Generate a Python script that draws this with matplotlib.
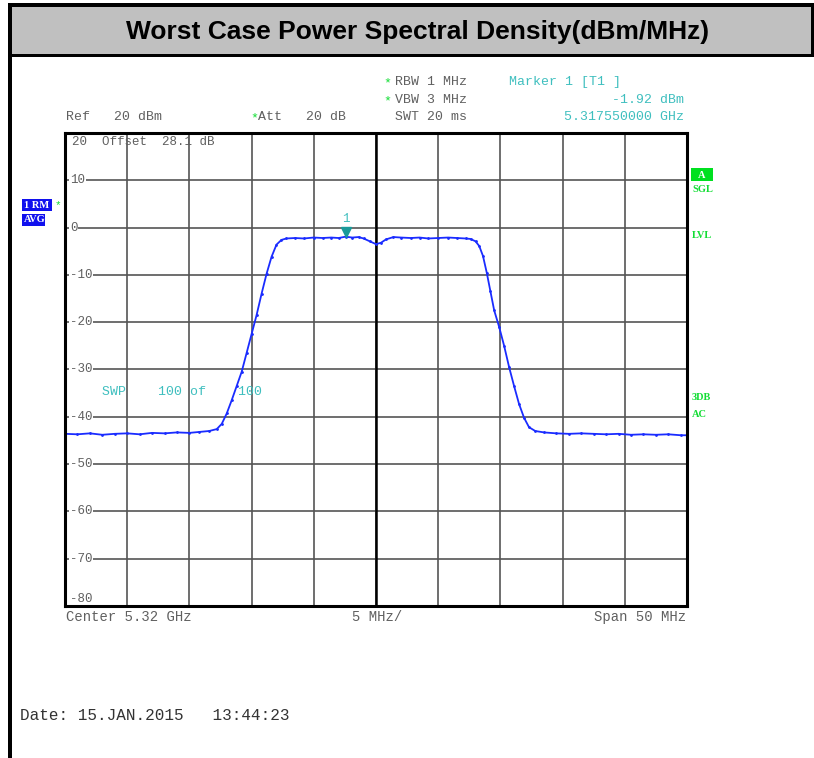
import matplotlib.pyplot as plt
from matplotlib.patches import Rectangle
import matplotlib.transforms as mtransforms

# trace: offset from center (MHz) and level (dBm)
freq = [-25.0, -24.0, -23.0, -22.0, -21.0, -20.0, -19.0, -18.0, -17.0, -16.0,
        -15.0, -14.2, -13.4, -12.8, -12.4, -12.0, -11.6, -11.2, -10.8, -10.4,
        -10.0, -9.6, -9.2, -8.8, -8.4, -8.0, -7.6, -7.2, -6.5, -5.8,
        -5.0, -4.3, -3.6, -3.0, -2.45, -1.9, -1.4, -1.0, -0.5, 0.0,
        0.4, 0.8, 1.4, 2.0, 2.8, 3.5, 4.2, 5.0, 5.8, 6.5,
        7.2, 7.6, 8.0, 8.3, 8.6, 8.9, 9.2, 9.5, 9.9, 10.3,
        10.7, 11.1, 11.5, 11.9, 12.3, 12.8, 13.5, 14.5, 15.5, 16.5,
        17.5, 18.5, 19.5, 20.5, 21.5, 22.5, 23.5, 24.5, 25.0]
level = [-43.6, -43.7, -43.5, -43.8, -43.6, -43.5, -43.7, -43.4, -43.5, -43.3,
         -43.4, -43.2, -43.0, -42.6, -41.5, -39.3, -36.5, -33.5, -30.5, -26.5,
         -22.5, -18.5, -14.0, -9.8, -6.2, -3.6, -2.6, -2.3, -2.2, -2.3,
         -2.1, -2.2, -2.1, -2.2, -1.92, -2.1, -2.0, -2.3, -2.9, -3.5,
         -3.2, -2.5, -2.0, -2.1, -2.2, -2.1, -2.3, -2.2, -2.1, -2.2,
         -2.3, -2.4, -2.9, -3.9, -6.0, -9.5, -13.5, -17.5, -21.0, -25.0,
         -29.5, -33.5, -37.3, -40.2, -42.2, -43.0, -43.3, -43.5, -43.6, -43.5,
         -43.6, -43.7, -43.6, -43.8, -43.7, -43.8, -43.7, -43.9, -43.9]
ytick_vals = [10, 0, -10, -20, -30, -40, -50, -60, -70]
marker_f, marker_v = -2.45, -1.92

W, H = 814, 758
fig = plt.figure(figsize=(W / 100, H / 100), dpi=100)

def px(x, y):
    return x / W, 1 - y / H

def box(x0, y0, x1, y1, color):
    fig.add_artist(Rectangle(px(x0, y1), (x1 - x0) / W, (y1 - y0) / H,
                             facecolor=color, edgecolor='none',
                             transform=fig.transFigure))

mono = 'Liberation Mono'
grey_txt = '#606060'
teal = '#3fbfbf'
green = '#11dd33'
blue = '#1a2cff'

# frame + title bar
box(12, 7, 814, 54, '#c0c0c0')
box(8, 3, 814, 7, 'black')
box(8, 3, 12, 758, 'black')
box(12, 54, 814, 57, 'black')
box(811, 3, 814, 57, 'black')
fig.text(*px(418, 32), 'Worst Case Power Spectral Density(dBm/MHz)',
         family='Liberation Sans', weight='bold', fontsize=19,
         ha='center', va='center')

ax = fig.add_axes([65 / W, 1 - 606 / H, 622 / W, 473 / H])
ax.set_xlim(-25, 25)
ax.set_ylim(-80, 20)
ax.set_xticks(range(-20, 25, 5))
ax.set_yticks(ytick_vals)
ax.grid(True, color='#555555', linewidth=1.2)
ax.tick_params(length=0, labelbottom=False, labelleft=False)
for s in ax.spines.values():
    s.set_linewidth(2.2)
ax.axvline(0, color='black', linewidth=1.8)

ax.plot(freq, level, color=blue, linewidth=1.3, marker='.', markersize=2)

# marker 1
trans = mtransforms.offset_copy(ax.transData, fig=fig, x=0, y=5, units='dots')
ax.plot([marker_f], [marker_v], marker='v', color='#1a9a9a', markersize=7,
        transform=trans, clip_on=False)
ax.text(marker_f, marker_v, '1', color=teal, family=mono, fontsize=9,
        ha='center', va='bottom',
        transform=mtransforms.offset_copy(ax.transData, fig=fig, x=0, y=12, units='dots'))

# y labels inside the grid
for v in ytick_vals:
    ax.text(-24.6, v, str(v), family=mono, fontsize=9, color=grey_txt,
            ha='left', va='center',
            bbox=dict(facecolor='white', edgecolor='none', pad=0.5))
ax.text(-24.4, 18.2, '20  Offset  28.1 dB', family=mono, fontsize=9,
        color=grey_txt, ha='left', va='center')
ax.text(-24.6, -78.6, '-80', family=mono, fontsize=9, color=grey_txt,
        ha='left', va='center')
ax.text(-22.0, -34.8, 'SWP    100 of    100', family=mono, fontsize=9.5,
        color=teal, ha='left', va='center')

# header texts
fs = 9.5
fig.text(*px(66, 117), 'Ref   20 dBm', family=mono, fontsize=fs, color=grey_txt, va='center')
fig.text(*px(250, 118), '*', family=mono, fontsize=fs, color=green, va='center')
fig.text(*px(258, 117), 'Att   20 dB', family=mono, fontsize=fs, color=grey_txt, va='center')
fig.text(*px(383, 83), '*', family=mono, fontsize=fs, color=green, va='center')
fig.text(*px(395, 82), 'RBW 1 MHz', family=mono, fontsize=fs, color=grey_txt, va='center')
fig.text(*px(383, 101), '*', family=mono, fontsize=fs, color=green, va='center')
fig.text(*px(395, 100), 'VBW 3 MHz', family=mono, fontsize=fs, color=grey_txt, va='center')
fig.text(*px(395, 117), 'SWT 20 ms', family=mono, fontsize=fs, color=grey_txt, va='center')
fig.text(*px(509, 82), 'Marker 1 [T1 ]', family=mono, fontsize=fs, color=teal, va='center')
fig.text(*px(684, 100), '-1.92 dBm', family=mono, fontsize=fs, color=teal,
         va='center', ha='right')
fig.text(*px(684, 117), '5.317550000 GHz', family=mono, fontsize=fs, color=teal,
         va='center', ha='right')

# footer texts
fs2 = 10
fig.text(*px(66, 617), 'Center 5.32 GHz', family=mono, fontsize=fs2, color=grey_txt, va='center')
fig.text(*px(377, 617), '5 MHz/', family=mono, fontsize=fs2, color=grey_txt,
         va='center', ha='center')
fig.text(*px(686, 617), 'Span 50 MHz', family=mono, fontsize=fs2, color=grey_txt,
         va='center', ha='right')
fig.text(*px(20, 715), 'Date: 15.JAN.2015   13:44:23', family=mono, fontsize=11.5,
         color='#333333', va='center')

# side labels
serif = 'Liberation Serif'
box(22, 199, 52, 211, '#1010ee')
fig.text(*px(24, 205), '1 RM', family=serif, weight='bold', fontsize=7.5,
         color='white', va='center')
fig.text(*px(55, 205), '*', family=mono, fontsize=8, color=green, va='center')
box(22, 214, 45, 226, '#1010ee')
fig.text(*px(24, 220), 'AVG', family=serif, weight='bold', fontsize=7.5,
         color='white', va='center')
box(691, 168, 713, 181, '#00e020')
fig.text(*px(702, 175), 'A', family=serif, weight='bold', fontsize=7.5,
         color='white', va='center', ha='center')
for y, t in [(189, 'SGL'), (235, 'LVL'), (398, '3DB'), (414, 'AC')]:
    fig.text(*px(692, y), t, family=serif, weight='bold', fontsize=7.5,
             color=green, va='center')

fig.savefig('out.png', dpi=100)
